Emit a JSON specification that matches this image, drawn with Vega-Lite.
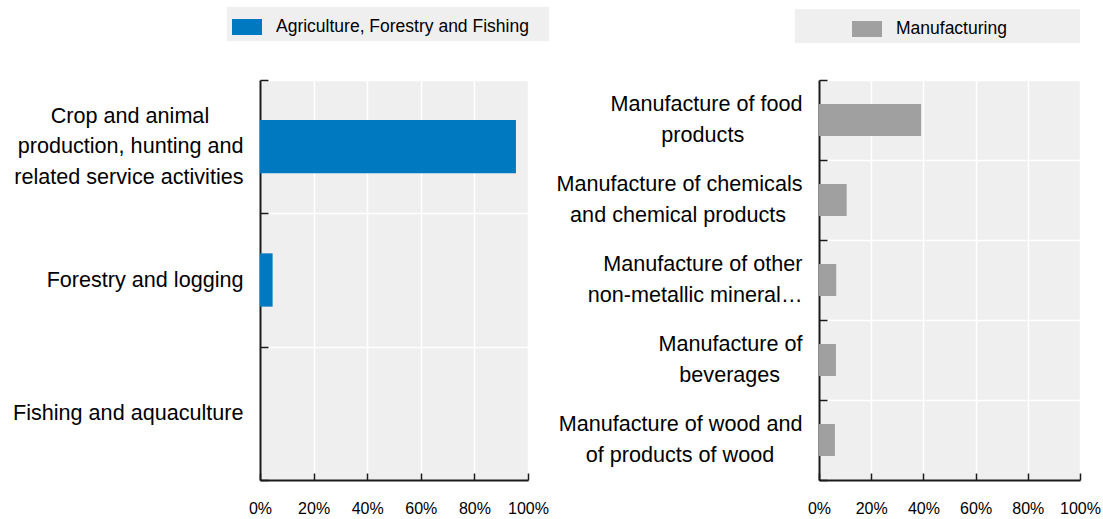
{
  "$schema": "https://vega.github.io/schema/vega-lite/v6.json",
  "padding": {"left": 12, "top": 7, "right": 5, "bottom": 3},
  "background": "white",
  "spacing": 6,
  "config": {
    "font": "Liberation Sans, Arial, sans-serif",
    "view": {"stroke": null, "fill": "#efefef"},
    "axis": {
      "labelColor": "#000",
      "labelFont": "Liberation Sans, Arial, sans-serif",
      "domainColor": "#1a1a1a",
      "domainWidth": 2,
      "tickColor": "#1a1a1a",
      "tickWidth": 1.5,
      "gridColor": "#ffffff",
      "gridWidth": 1.5,
      "grid": true,
      "title": null,
      "labelOverlap": false,
      "labelFlush": false,
      "labelBound": false
    }
  },
  "data": {
    "values": [
      {"sector": "Agriculture, Forestry and Fishing", "activity": "Crop and animal production, hunting and related service activities", "share": 0.955},
      {"sector": "Agriculture, Forestry and Fishing", "activity": "Forestry and logging", "share": 0.047},
      {"sector": "Agriculture, Forestry and Fishing", "activity": "Fishing and aquaculture", "share": 0.0},
      {"sector": "Manufacturing", "activity": "Manufacture of food products", "share": 0.391},
      {"sector": "Manufacturing", "activity": "Manufacture of chemicals and chemical products", "share": 0.106},
      {"sector": "Manufacturing", "activity": "Manufacture of other non-metallic mineral products", "share": 0.066},
      {"sector": "Manufacturing", "activity": "Manufacture of beverages", "share": 0.065},
      {"sector": "Manufacturing", "activity": "Manufacture of wood and of products of wood", "share": 0.061}
    ]
  },
  "resolve": {
    "scale": {"color": "independent", "x": "independent", "y": "independent"},
    "legend": {"color": "independent"}
  },
  "hconcat": [
    {
      "width": 268,
      "height": 400,
      "transform": [{"filter": "datum.sector === 'Agriculture, Forestry and Fishing'"}],
      "mark": {"type": "bar", "height": {"band": 0.4}},
      "encoding": {
        "y": {
          "field": "activity",
          "type": "nominal",
          "sort": null,
          "scale": {"paddingInner": 0, "paddingOuter": 0},
          "axis": {
            "tickBand": "extent",
            "tickSize": -8,
            "labelExpr": "datum.value === 'Crop and animal production, hunting and related service activities' ? ['Crop and animal\u00a0\u00a0\u00a0\u00a0\u00a0\u2009\u200b', 'production, hunting and', 'related service activities'] : ['\u200b\u00a0\u200b', datum.value]",
            "labelAlign": "right",
            "labelBaseline": "middle",
            "labelFontSize": 21.6,
            "labelLineHeight": 30.5,
            "labelOffset": -30.5,
            "labelLimit": 400,
            "labelPadding": 25
          }
        },
        "x": {
          "field": "share",
          "type": "quantitative",
          "scale": {"domain": [0, 1], "nice": false},
          "axis": {
            "values": [0, 0.2, 0.4, 0.6, 0.8, 1],
            "format": ".0%",
            "tickSize": -7,
            "labelFontSize": 16,
            "labelPadding": 27
          }
        },
        "color": {
          "field": "sector",
          "type": "nominal",
          "scale": {"domain": ["Agriculture, Forestry and Fishing"], "range": ["#0079c1"]},
          "legend": {
            "orient": "none",
            "legendX": -33,
            "legendY": -73,
            "fillColor": "#efefef",
            "padding": 5,
            "symbolType": "M-1,-0.533H1V0.533H-1Z",
            "symbolSize": 900,
            "symbolStrokeWidth": 0,
            "labelExpr": "datum.label + '\u00a0\u00a0\u00a0\u200b'",
            "labelFontSize": 17.5,
            "labelOffset": 14,
            "labelColor": "#000",
            "labelLimit": 400,
            "title": null
          }
        }
      }
    },
    {
      "width": 261,
      "height": 400,
      "transform": [{"filter": "datum.sector === 'Manufacturing'"}],
      "mark": {"type": "bar", "height": {"band": 0.4}},
      "encoding": {
        "y": {
          "field": "activity",
          "type": "nominal",
          "sort": null,
          "scale": {"paddingInner": 0, "paddingOuter": 0},
          "axis": {
            "tickBand": "extent",
            "tickSize": -8,
            "labelExpr": "datum.value === 'Manufacture of food products' ? ['Manufacture of food', 'products\u00a0\u00a0\u00a0\u00a0\u00a0\u00a0\u00a0\u00a0\u00a0\u2009\u200b'] : datum.value === 'Manufacture of chemicals and chemical products' ? ['Manufacture of chemicals', 'and chemical products\u00a0\u00a0\u2009\u200b'] : datum.value === 'Manufacture of other non-metallic mineral products' ? ['Manufacture of other', 'non-metallic mineral…'] : datum.value === 'Manufacture of beverages' ? ['Manufacture of', 'beverages\u00a0\u00a0\u00a0\u2009\u200b'] : datum.value === 'Manufacture of wood and of products of wood' ? ['Manufacture of wood and', 'of products of wood\u00a0\u00a0\u00a0\u00a0\u2009\u200b'] : datum.value",
            "labelAlign": "right",
            "labelBaseline": "middle",
            "labelFontSize": 21.6,
            "labelLineHeight": 30.5,
            "labelOffset": -15.25,
            "labelLimit": 400,
            "labelPadding": 25
          }
        },
        "x": {
          "field": "share",
          "type": "quantitative",
          "scale": {"domain": [0, 1], "nice": false},
          "axis": {
            "values": [0, 0.2, 0.4, 0.6, 0.8, 1],
            "format": ".0%",
            "tickSize": -7,
            "labelFontSize": 16,
            "labelPadding": 27
          }
        },
        "color": {
          "field": "sector",
          "type": "nominal",
          "scale": {"domain": ["Manufacturing"], "range": ["#a0a0a0"]},
          "legend": {
            "orient": "none",
            "legendX": -24,
            "legendY": -71,
            "fillColor": "#efefef",
            "padding": 5,
            "symbolType": "M-1,-0.533H1V0.533H-1Z",
            "symbolSize": 900,
            "symbolStrokeWidth": 0,
            "symbolOffset": 52,
            "labelExpr": "datum.label + '\u00a0\u00a0\u00a0\u00a0\u00a0\u00a0\u00a0\u00a0\u00a0\u00a0\u00a0\u00a0\u00a0\u00a0\u200b'",
            "labelFontSize": 17.5,
            "labelOffset": 14,
            "labelColor": "#000",
            "labelLimit": 400,
            "title": null
          }
        }
      }
    }
  ]
}
